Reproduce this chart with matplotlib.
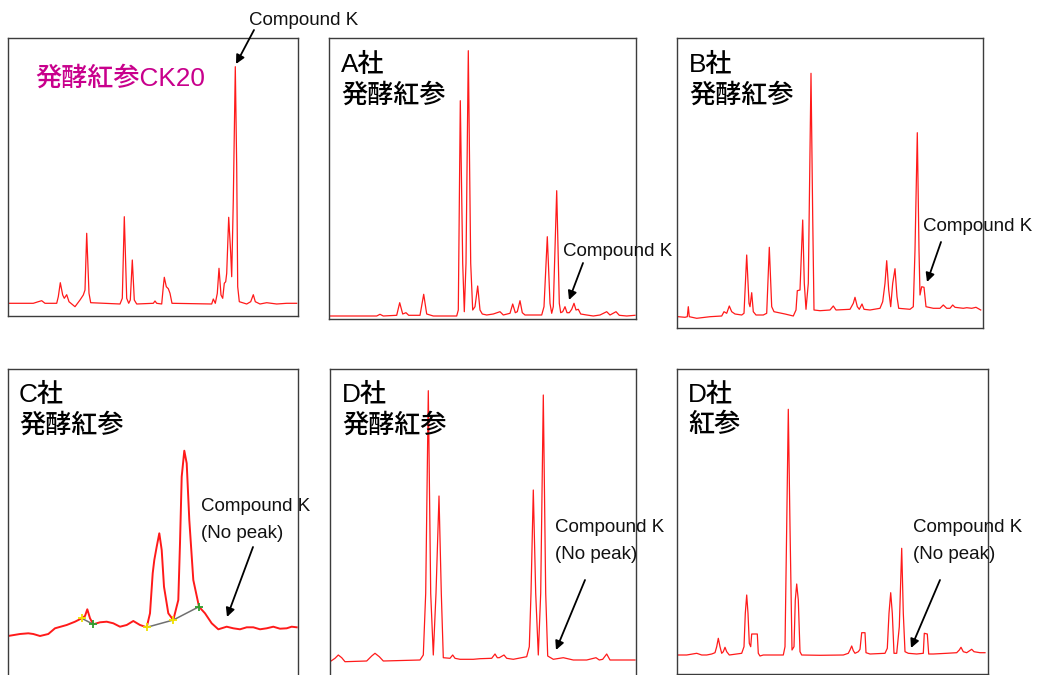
import matplotlib
matplotlib.use("Agg")
import matplotlib.pyplot as plt

# ---------------- data (x = relative retention time, y = response) ----------
p1_x = [0.3, 25.3, 30.3, 33.7, 37, 48.7, 50.3, 52.3, 54.7, 56.3, 58.7, 61, 67, 72, 75.3, 77, 78.7, 81, 82.7,
        112, 114.3, 116.3, 118.7, 120.7, 122.3, 124.3, 126.3, 128.7, 145.3, 147, 148.7, 153.7, 155.3, 156.3,
        158.3, 160.3, 162, 164, 203.7, 205.3, 207.3, 209.3, 211, 213, 214.7, 216.3, 217.7, 218.7, 220.7,
        222.7, 223.7, 225.3, 227.3, 228.7, 229.7, 231.3, 238.7, 242.7, 245.3, 247.3, 252, 258.7, 268.7,
        278.7, 288.7]
p1_y = [12.7, 12.7, 14.3, 15.3, 12.7, 12.7, 19.3, 33.3, 21, 17.7, 21.3, 14.3, 9.3, 16, 21, 26, 82.7, 22.7, 13.3,
        12, 17.7, 99.3, 17.7, 12.7, 16, 56, 16, 12, 12.7, 15, 12.7, 12, 29.3, 38.7,
        29.3, 27.3, 22.7, 12.7, 12, 17, 12.7, 22.7, 47.7, 21, 17.7, 32.7, 34.3, 42.7, 98.7,
        62.7, 39.3, 116, 249.3, 149.3, 29.3, 14.3, 12, 14.3, 21.3, 14.3, 12, 13.3, 12,
        12.7, 12.7]

p2_x = [1, 47.7, 51, 54.3, 67.7, 70.7, 73.7, 77, 79.7, 91, 94.7, 97.7, 104.3, 127.7, 129.3, 131.3, 133.7,
        135.3, 137, 139.3, 141.7, 143.7, 146, 148.7, 151, 153.3, 157.7, 164.3, 171, 174.3, 181, 183.7,
        186.3, 188.3, 191, 193.3, 196, 212.7, 215, 218.3, 221, 222.7, 224.3, 227.7, 230.3, 231.7, 233.7,
        236, 238, 240.3, 242.7, 245, 247, 249.3, 251.7, 257.7, 264.3, 271, 277.7, 281, 287, 290.3, 297.7, 306]
p2_y = [3, 3, 4.7, 3, 3.7, 16.3, 5, 6.3, 3.7, 3.7, 24.7, 5, 3, 3, 9, 218.3, 55.7,
        7.3, 55.7, 268.3, 55.7, 9, 12.3, 33, 9, 5, 4, 5, 7.3, 4, 5.7, 15,
        6.3, 7.3, 18.3, 6.3, 4, 4, 12.3, 82.3, 15.7, 5.7, 12.3, 128.3, 15.7, 6.3, 7.3,
        12.3, 6.3, 6.3, 9.7, 15.7, 9, 9.7, 5, 4, 3, 4, 7.3, 4, 7.3, 3.7, 3, 3.7]

p3_x = [1.3, 8, 10.3, 11.3, 12.3, 19.7, 33, 44.7, 47, 49.7, 52.3, 54.7, 58, 64.7, 67, 69.7, 72, 73, 74.7,
        76.3, 79, 86.3, 89.7, 92.3, 94.7, 97, 108, 116.3, 119, 120.3, 123, 125.7, 127.3, 129, 131.3, 134,
        135.7, 137, 143, 153, 156.3, 159, 173, 176.3, 178, 180.3, 182.3, 185, 187, 193, 203, 205.7, 208,
        209.7, 211.7, 213.7, 215.7, 218, 220, 221.7, 233, 236.3, 238, 240.3, 242, 243, 244.7, 247, 249,
        256.3, 263, 266.3, 269.7, 273, 275.7, 278, 286.3, 289.7, 294.7, 299, 303.7]
p3_y = [11.3, 10.7, 11.3, 21.3, 11.3, 9.7, 11.3, 12, 16.3, 14.7, 22, 16.3, 14, 13, 14.7, 73, 24.7, 21.3, 35.3,
        16.3, 13, 13, 14.7, 80.7, 21.3, 16.3, 14, 12, 18, 37.3, 38, 108, 44.7, 18.7, 44.7, 254.7,
        111.3, 18, 17.3, 18, 22, 18, 18.7, 24.7, 30.7, 21.3, 18.7, 24, 18.7, 18, 19.7, 26.3, 44.7,
        67.3, 38, 21.3, 44.7, 59.3, 31.3, 19.7, 18.7, 21.3, 78, 195.3, 78, 33, 41.3, 40.7, 21.3,
        19.7, 19.7, 23, 19.7, 19.7, 23, 20.7, 19.7, 20.3, 19.7, 20.7, 18]

p4_x = [0, 12, 20.3, 25.3, 32, 40.3, 47, 58.7, 67, 73.7, 77, 79.3, 82, 85.3, 92, 98.7, 105.3, 112, 118.7,
        125.3, 132, 138.7, 142, 144.7, 146.3, 148.7, 151.3, 153.7, 156, 160.3, 165.3, 170.3, 172, 173.7,
        176.3, 178.7, 181.3, 185.3, 191, 197, 203.7, 210.3, 218.7, 225.3, 232, 238.7, 245.3, 252, 258.7,
        265.3, 272, 278.7, 283.7, 288.7]
p4_y = [44, 46, 46.7, 46, 44, 46, 51.7, 55, 58.3, 61.7, 64, 70.7, 61.7, 55.7, 57.7, 58.3, 56.7, 53.3, 55,
        59, 55, 52.7, 66.7, 106.7, 120, 133.3, 146.7, 130, 93.3, 66.7, 60, 80, 136.7, 203.3,
        229.3, 216.7, 160, 100, 73.3, 66.7, 56.7, 50.7, 53.3, 51.7, 50.7, 52.7, 52.7, 50.7, 51.7,
        53.3, 51.3, 51.7, 53.3, 52.7]
# peak-integration start / end marks of panel C
p4_start_x = [73.7, 138.7, 165.3]
p4_start_y = [61.7, 52.7, 60]
p4_end_x = [85.3, 191]
p4_end_y = [55.7, 73.3]
p4_base_x = [[73.7, 85.3], [138.7, 165.3, 191]]
p4_base_y = [[61.7, 55.7], [52.7, 60, 73.3]]

p5_x = [0, 5, 8.3, 11.7, 15, 36.7, 41.7, 45, 49.3, 53.3, 90, 93.3, 95.7, 98.3, 100.7, 103.3, 106, 109,
        111.3, 113.3, 120, 122.7, 125, 130, 143.3, 150, 161.7, 165, 167.3, 169.3, 174, 176.7, 183.3,
        196.7, 199.3, 201, 203.3, 205.7, 208.3, 210.7, 213.3, 215.7, 217.7, 223.3, 233.3, 243.3, 256.7,
        266, 269.3, 272.7, 276.7, 280, 290, 305]
p5_y = [18.3, 21.7, 25, 22.3, 18.3, 19, 24, 26.7, 23.3, 19, 20, 25, 86.7, 289.3, 86.7, 25, 86.7, 184,
        86.7, 22.3, 21.7, 25, 21.7, 20.7, 20.7, 21.3, 21.7, 26, 22.3, 22.3, 25, 21.7, 20.7,
        23.3, 33.3, 86.7, 190, 86.7, 25, 86.7, 285, 86.7, 24, 20.7, 22.3, 20, 20,
        22.3, 20, 20.7, 26, 20, 20, 20]

p6_x = [0.3, 9.7, 19.7, 24.7, 29.7, 34.7, 38, 39.7, 41.3, 43, 44.7, 46.3, 48, 49.7, 52.3, 64.7, 67, 68.3,
        69.7, 71, 72.3, 73.7, 74.7, 80.3, 81.3, 83, 86.3, 99.7, 106.3, 108, 109.7, 111.3, 113, 115, 117,
        118.3, 119.7, 121.3, 123, 124.7, 143, 166.3, 171.3, 173, 174.7, 176.3, 178, 181.3, 183, 184.7,
        188, 189, 193, 208, 210.3, 212, 213.7, 215.3, 217, 219.7, 222.3, 224.7, 226.3, 228, 231.3, 239.7,
        246.3, 247.3, 250.3, 251.7, 256.3, 269.7, 279.7, 282.3, 284, 286.3, 289.7, 294.7, 297, 303, 308]
p6_y = [19, 19, 20.7, 19, 19, 20, 21.3, 27.3, 35.7, 27.3, 20.7, 22.3, 26.7, 22.3, 19, 20.7, 27.3, 60.7,
        79, 60.7, 30.7, 27.3, 40, 40, 20.7, 18, 19, 19, 19, 27.3, 147.3, 264.7, 147.3, 24, 27.3,
        74, 90, 74, 22.3, 19, 18.7, 19, 20.7, 24, 28, 23.3, 20.7, 22.3, 24.7, 41.3,
        41.3, 21.3, 20, 20.7, 25.7, 60.7, 81.3, 60.7, 20.7, 20.7, 47.3, 125.7, 60.7, 22.3, 20.7, 20,
        20.7, 40.7, 40, 20, 20, 20.7, 21.3, 24, 26.7, 22.3, 21.3, 24.7, 22.3, 21.3, 21.3]

panel_titles = [["発酵紅参CK20"], ["A社", "発酵紅参"], ["B社", "発酵紅参"],
                ["C社", "発酵紅参"], ["D社", "発酵紅参"], ["D社", "紅参"]]
ck_labels = [["Compound K"], ["Compound K"], ["Compound K"],
             ["Compound K", "(No peak)"], ["Compound K", "(No peak)"], ["Compound K", "(No peak)"]]

# ---------------- layout ----------------
W, H = 1041, 675
fig = plt.figure(figsize=(W / 100, H / 100), dpi=100)
fig.patch.set_facecolor("white")

TITLE_FONT = ["Liberation Sans", "Noto Sans CJK JP", "DejaVu Sans"]
LAT = ["Liberation Sans", "DejaVu Sans"]


def ax_at(left, top, right, bottom):
    return fig.add_axes([left / W, 1 - bottom / H, (right - left) / W, (bottom - top) / H])


def ftext(x, y, s, **kw):
    fig.text(x / W, 1 - y / H, s, **kw)


panels = [
    # box (l, t, r, b), data, line width, show bottom spine
    ((8, 38, 298, 316), p1_x, p1_y, 0.9, True),
    ((329, 38, 636, 319), p2_x, p2_y, 0.9, True),
    ((677, 38, 983, 328), p3_x, p3_y, 0.9, True),
    ((8, 369, 298, 680), p4_x, p4_y, 1.4, False),
    ((330, 369, 636, 680), p5_x, p5_y, 0.9, False),
    ((677, 369, 988, 674), p6_x, p6_y, 0.9, True),
]

axes = []
for (l, t, r, b), xs, ys, lw, bottom in panels:
    ax = ax_at(l, t, r, b)
    ax.plot(xs, ys, color="#ff1a1a", lw=lw, solid_joinstyle="round")
    ax.set_xlim(0, r - l)
    ax.set_ylim(0, b - t)
    ax.set_xticks([])
    ax.set_yticks([])
    for sp in ax.spines.values():
        sp.set_color("#3c3c3c")
        sp.set_linewidth(1.0)
    if not bottom:
        ax.spines["bottom"].set_visible(False)
    axes.append(ax)

# panel C integration marks
axC = axes[3]
for bx, by in zip(p4_base_x, p4_base_y):
    axC.plot(bx, by, color="#707070", lw=1.1, zorder=3)
axC.plot(p4_start_x, p4_start_y, "+", color="#f0e000", ms=6, mew=1.3, zorder=4)
axC.plot(p4_end_x, p4_end_y, "+", color="#2f9e2f", ms=6, mew=1.3, zorder=4)

# ---------------- titles ----------------
TS = 18.8
ftext(35, 86, panel_titles[0][0], fontsize=TS, color="#c8008c", family=TITLE_FONT,
      weight="medium", va="baseline")
title_pos = [(341, 71.5), (689, 71.5), (19, 401.5), (342, 401.5), (688, 401.5)]
for (x, y), lines in zip(title_pos, panel_titles[1:]):
    ftext(x, y, lines[0], fontsize=TS, color="black", family=TITLE_FONT, weight="medium", va="baseline")
    ftext(x, y + 31, lines[1], fontsize=TS, color="black", family=TITLE_FONT, weight="medium",
          va="baseline")

# ---------------- Compound K annotations ----------------
ck_text_pos = [(249, 25), (563, 256), (923, 231), (201, 511), (555, 532), (913, 532)]
ck_arrows = [((254, 30), (236, 64)), ((583, 263), (569, 300)), ((941, 242), (927, 282)),
             ((253, 547), (227, 617)), ((585, 580), (556, 650)), ((940, 580), (911, 648))]
for (x, y), lines in zip(ck_text_pos, ck_labels):
    for i, s in enumerate(lines):
        ftext(x, y + 27 * i, s, fontsize=13.5, color="#111111", family=LAT, va="baseline")
for (tx, ty), (hx, hy) in ck_arrows:
    fig.add_artist(matplotlib.patches.FancyArrowPatch(
        (tx / W, 1 - ty / H), (hx / W, 1 - hy / H), transform=fig.transFigure,
        arrowstyle="-|>", mutation_scale=13, color="black", lw=1.3,
        shrinkA=0, shrinkB=0))

fig.savefig("out.png", dpi=100, facecolor="white")
